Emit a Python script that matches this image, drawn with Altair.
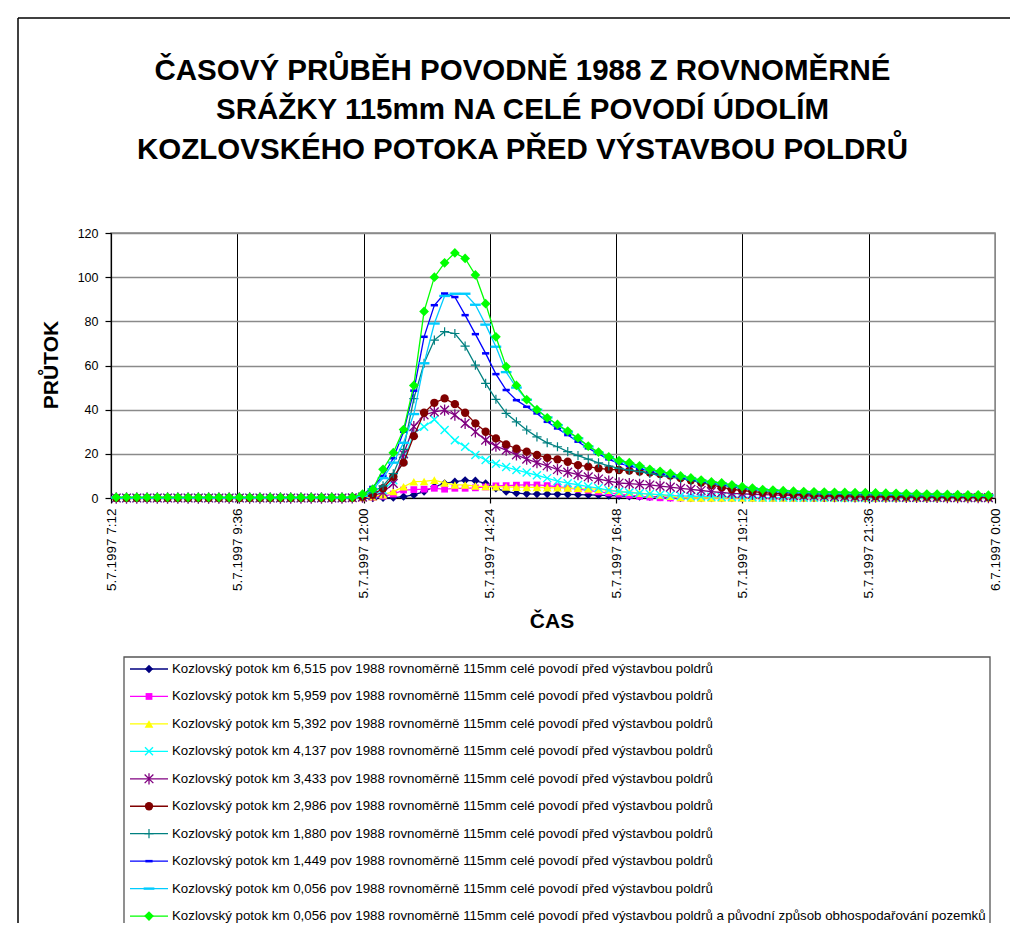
import altair as alt
import pandas as pd

# ---------------- data ----------------
# sampling grid (hours after midnight of 5.7.1997)
T_START_H = 7.3
T_STEP_H = 0.195
N_SAMPLES = 86
time_h = [round(T_START_H + T_STEP_H * k, 4) for k in range(N_SAMPLES)]

LBL = "Kozlovský potok km {} pov 1988 rovnoměrně 115mm celé povodí před výstavbou poldrů"
series_names = [
    LBL.format("6,515"), LBL.format("5,959"), LBL.format("5,392"), LBL.format("4,137"),
    LBL.format("3,433"), LBL.format("2,986"), LBL.format("1,880"), LBL.format("1,449"),
    LBL.format("0,056"),
    LBL.format("0,056") + " a původní způsob obhospodařování pozemků",
]
series_colors = ["#000080", "#FF00FF", "#FFFF00", "#00FFFF", "#800080",
                 "#800000", "#008080", "#0000FF", "#00CCFF", "#00FF00"]

km6515 = [0, 0, 0, 0, 0, 0, 0, 0, 0, 0, 0,
          0, 0, 0, 0, 0, 0, 0, 0, 0, 0, 0,
          0, 0, 0, 0, 0.1, 0.2, 0.6, 1.4,
          2.9, 5.1, 6.6, 7.4, 8.0, 7.8, 6.6, 4.4,
          2.9, 2.2, 1.9, 1.8, 1.8, 1.7, 1.6, 1.5,
          1.4, 1.3, 1.1, 1.0, 0.8, 0.7, 0.5, 0.4,
          0.2, 0.1, 0, 0, 0, 0, 0, 0,
          0, 0, 0, 0, 0, 0, 0, 0,
          0, 0, 0, 0, 0, 0, 0, 0,
          0, 0, 0, 0, 0, 0, 0, 0]
km5959 = [0, 0, 0, 0, 0, 0, 0, 0, 0, 0, 0,
          0, 0, 0, 0, 0, 0, 0, 0, 0, 0, 0,
          0, 0, 0.1, 0.3, 0.8, 1.8, 3.6, 3.8,
          4.0, 4.4, 4.0, 4.4, 4.4, 4.6, 5.0, 5.5,
          5.6, 5.8, 5.9, 5.9, 5.6, 5.1, 4.5, 4.0,
          3.5, 2.8, 2.3, 1.8, 1.3, 0.8, 0.4, 0.1,
          0, 0, 0, 0, 0, 0, 0, 0,
          0, 0, 0, 0, 0, 0, 0, 0,
          0, 0, 0, 0, 0, 0, 0, 0,
          0, 0, 0, 0, 0, 0, 0, 0]
km5392 = [0, 0, 0, 0, 0, 0, 0, 0, 0, 0, 0,
          0, 0, 0, 0, 0, 0, 0, 0, 0, 0, 0,
          0, 0, 0.2, 0.6, 1.5, 2.9, 5.1, 7.4,
          7.5, 8.1, 6.8, 5.9, 5.9, 5.4, 5.2, 5.1,
          5.0, 4.9, 4.8, 4.8, 4.7, 4.6, 4.5, 4.4,
          4.2, 3.9, 3.5, 3.0, 2.6, 2.2, 1.8, 1.4,
          0.8, 0.2, 0, 0, 0, 0, 0, 0,
          0, 0, 0, 0, 0, 0, 0, 0,
          0, 0, 0, 0, 0, 0, 0, 0,
          0, 0, 0, 0, 0, 0, 0, 0]
km4137 = [0, 0, 0, 0, 0, 0, 0, 0, 0, 0, 0,
          0, 0, 0, 0, 0, 0, 0, 0, 0, 0, 0,
          0, 0.1, 0.6, 1.5, 3.5, 8.0, 17.0, 29.3,
          32.3, 35.5, 30.8, 26.2, 23.2, 19.5, 17.2, 15.5,
          14.0, 12.7, 11.5, 10.3, 9.0, 7.6, 6.7, 6.0,
          5.2, 4.5, 3.5, 2.9, 2.5, 2.1, 1.8, 1.5,
          1.2, 1.0, 0.8, 0.7, 0.6, 0.5, 0.4, 0.3,
          0.3, 0.2, 0.2, 0.2, 0.1, 0.1, 0.1, 0.1,
          0.1, 0, 0, 0, 0, 0, 0, 0,
          0, 0, 0, 0, 0, 0, 0, 0]
km3433 = [0, 0, 0, 0, 0, 0, 0, 0, 0, 0, 0,
          0, 0, 0, 0, 0, 0, 0, 0, 0, 0, 0,
          0, 0.1, 0.4, 1.0, 2.5, 6.6, 20.0, 32.3,
          37.6, 39.0, 39.8, 37.6, 33.8, 30.0, 26.2, 23.5,
          21.7, 19.5, 17.6, 16.0, 14.6, 12.9, 11.7, 10.6,
          9.6, 8.6, 7.6, 6.8, 6.5, 6.2, 5.9, 5.4,
          4.9, 4.4, 3.9, 3.4, 2.9, 2.5, 2.1, 1.9,
          1.7, 1.5, 1.4, 1.2, 1.1, 1.0, 0.9, 0.8,
          0.6, 0.6, 0.5, 0.5, 0.4, 0.4, 0.4, 0.3,
          0.3, 0.3, 0.3, 0.2, 0.2, 0.2, 0.2, 0.2]
km2986 = [0, 0, 0, 0, 0, 0, 0, 0, 0, 0, 0,
          0, 0, 0, 0, 0, 0, 0, 0, 0, 0, 0,
          0, 0.1, 0.5, 1.5, 4.4, 9.6, 16.0, 28.0,
          38.6, 43.1, 45.1, 42.5, 38.6, 33.8, 30.0, 27.0,
          24.3, 22.3, 21.0, 19.5, 18.2, 17.5, 16.4, 14.9,
          14.2, 13.4, 13.0, 12.7, 12.4, 12.0, 11.5, 10.9,
          10.2, 9.0, 8.0, 7.0, 5.9, 4.9, 3.9, 3.4,
          2.9, 2.5, 2.1, 1.9, 1.7, 1.5, 1.4, 1.3,
          1.2, 1.1, 1.0, 0.9, 0.9, 0.8, 0.8, 0.7,
          0.7, 0.6, 0.6, 0.5, 0.5, 0.5, 0.4, 0.4]
km1880 = [0.1, 0.1, 0.1, 0.1, 0.1, 0.1, 0.1, 0.1, 0.1, 0.1, 0.1,
          0.1, 0.1, 0.1, 0.1, 0.1, 0.1, 0.1, 0.1, 0.1, 0.1, 0.1,
          0.1, 0.2, 1.0, 2.5, 5.5, 11.0, 22.0, 45.0,
          61.0, 71.5, 75.3, 74.5, 68.8, 60.2, 51.9, 44.7,
          38.3, 34.5, 30.8, 27.7, 25.0, 23.2, 21.0, 19.2,
          17.6, 15.9, 14.5, 13.4, 12.6, 11.9, 11.1, 10.3,
          9.5, 8.8, 8.0, 7.2, 6.5, 5.8, 5.0, 4.3,
          3.8, 3.3, 2.9, 2.6, 2.3, 2.1, 1.9, 1.8,
          1.7, 1.6, 1.5, 1.4, 1.4, 1.3, 1.2, 1.1,
          1.0, 1.0, 0.9, 0.9, 0.8, 0.8, 0.7, 0.7]
km1449 = [0.2, 0.2, 0.2, 0.2, 0.2, 0.2, 0.2, 0.2, 0.2, 0.2, 0.2,
          0.2, 0.2, 0.2, 0.2, 0.2, 0.2, 0.2, 0.2, 0.2, 0.2, 0.2,
          0.2, 0.3, 1.5, 5.0, 10.0, 18.0, 30.0, 48.6,
          73.0, 87.3, 92.6, 91.0, 82.8, 74.2, 65.5, 56.1,
          48.9, 44.3, 41.3, 38.3, 34.5, 31.5, 28.5, 25.5,
          22.5, 20.0, 17.5, 15.7, 14.5, 13.3, 12.2, 11.2,
          10.2, 9.3, 8.5, 7.6, 6.9, 6.2, 5.5, 4.8,
          4.2, 3.7, 3.3, 3.0, 2.8, 2.6, 2.5, 2.4,
          2.3, 2.2, 2.1, 2.0, 2.0, 1.9, 1.8, 1.7,
          1.6, 1.5, 1.4, 1.3, 1.2, 1.2, 1.1, 1.0]
km0056 = [0.2, 0.2, 0.2, 0.2, 0.2, 0.2, 0.2, 0.2, 0.2, 0.2, 0.2,
          0.2, 0.2, 0.2, 0.2, 0.2, 0.2, 0.2, 0.2, 0.2, 0.2, 0.2,
          0.2, 0.3, 1.0, 4.0, 9.0, 16.0, 25.0, 38.0,
          61.0, 79.0, 91.5, 92.5, 92.5, 87.5, 78.5, 68.5,
          57.0, 50.0, 44.5, 40.0, 36.5, 33.0, 30.0, 27.0,
          23.3, 20.5, 18.5, 16.8, 15.5, 14.2, 12.9, 11.9,
          10.9, 9.9, 9.0, 8.0, 7.2, 6.6, 5.8, 5.0,
          4.4, 3.8, 3.5, 3.2, 3.0, 2.8, 2.7, 2.6,
          2.5, 2.4, 2.3, 2.3, 2.2, 2.1, 2.0, 1.9,
          1.8, 1.7, 1.6, 1.5, 1.4, 1.3, 1.3, 1.2]
km0056_orig = [0.3, 0.3, 0.3, 0.3, 0.3, 0.3, 0.3, 0.3, 0.3, 0.3, 0.3,
               0.3, 0.3, 0.3, 0.3, 0.3, 0.3, 0.3, 0.3, 0.3, 0.3, 0.3,
               0.3, 0.4, 1.8, 4.0, 13.0, 20.5, 31.0, 51.0,
               84.5, 100.0, 106.5, 111.0, 108.5, 101.0, 88.0, 73.0,
               59.5, 51.0, 44.5, 40.0, 36.3, 33.3, 30.3, 27.2,
               23.5, 20.8, 18.6, 16.9, 16.0, 14.6, 13.0, 12.1,
               11.1, 10.0, 9.1, 8.1, 7.3, 6.8, 5.9, 5.1,
               4.5, 3.8, 3.6, 3.3, 3.1, 2.9, 2.8, 2.7,
               2.6, 2.5, 2.4, 2.4, 2.3, 2.2, 2.1, 2.0,
               1.9, 1.8, 1.7, 1.6, 1.5, 1.4, 1.4, 1.3]

series_values = [km6515, km5959, km5392, km4137, km3433,
                 km2986, km1880, km1449, km0056, km0056_orig]

title_lines = ["ČASOVÝ PRŮBĚH POVODNĚ 1988 Z ROVNOMĚRNÉ",
               "SRÁŽKY 115mm NA CELÉ POVODÍ ÚDOLÍM",
               "KOZLOVSKÉHO POTOKA PŘED VÝSTAVBOU POLDRŮ"]
y_title = "PRŮTOK"
x_title = "ČAS"
x_tick_values = [7.2, 9.6, 12.0, 14.4, 16.8, 19.2, 21.6, 24.0]
y_tick_values = [0, 20, 40, 60, 80, 100, 120]

# ---------------- styling ----------------
W, H = 884, 265
FONT = "Liberation Sans"

# marker styles (Excel defaults): shape, filled, size, strokeWidth
X_PATH = "M-1,-1L1,1M-1,1L1,-1"
STAR_PATH = "M-1,-1L1,1M-1,1L1,-1M0,-1.3L0,1.3"
PLUS_PATH = "M-1,0L1,0M0,-1L0,1"
DASH_S = "M-1,-0.35L1,-0.35L1,0.35L-1,0.35Z"
DASH_L = "M-1,-0.22L1,-0.22L1,0.22L-1,0.22Z"
marker_styles = [
    ("diamond", True, 70, 1),
    ("square", True, 46, 1),
    ("triangle-up", True, 76, 1),
    (X_PATH, False, 64, 1.4),
    (STAR_PATH, False, 76, 1.3),
    ("circle", True, 70, 1),
    (PLUS_PATH, False, 84, 1.2),
    (DASH_S, True, 52, 0.5),
    (DASH_L, True, 115, 0.5),
    ("diamond", True, 95, 1),
]

x_scale = alt.Scale(domain=[7.2, 24.0], nice=False, zero=False)
y_scale = alt.Scale(domain=[0, 120], nice=False)

label_expr = ("datum.value >= 23.99 ? '6.7.1997 0:00' : '5.7.1997 ' + floor(datum.value) + ':' + "
              "(round((datum.value - floor(datum.value)) * 60) < 10 ? '0' : '') + "
              "round((datum.value - floor(datum.value)) * 60)")

x_axis = alt.Axis(values=x_tick_values, labelExpr=label_expr, labelAngle=270,
                  labelAlign="right", labelBaseline="middle", labelPadding=5,
                  tickSize=5, title=None, labelFont=FONT, labelFontSize=13.5,
                  gridColor={"condition": {"test": "datum.value > 23.9", "value": "#888888"},
                             "value": "#000000"},
                  gridWidth=1)
y_axis = alt.Axis(values=y_tick_values, tickSize=6, labelPadding=7, title=None,
                  labelFont=FONT, labelFontSize=12.5, gridColor="#8a8a8a", gridWidth=1.5)

layers = []

# outer chart frame (top and left edges; right/bottom lie outside the picture)
one = pd.DataFrame({"k": [0]})
layers.append(alt.Chart(one).mark_rule(color="#000000", strokeWidth=1.5).encode(
    x=alt.value(-93), x2=alt.value(960), y=alt.value(-215)))
layers.append(alt.Chart(one).mark_rule(color="#000000", strokeWidth=1.5).encode(
    x=alt.value(-93), y=alt.value(-215), y2=alt.value(760)))

# main series
for i, (name, col, vals) in enumerate(zip(series_names, series_colors, series_values)):
    df = pd.DataFrame({"t": time_h, "q": vals})
    enc = dict(x=alt.X("t:Q", scale=x_scale, axis=x_axis),
               y=alt.Y("q:Q", scale=y_scale, axis=y_axis))
    layers.append(alt.Chart(df).mark_line(color=col, strokeWidth=1.3).encode(**enc))
    shape, filled, size, sw = marker_styles[i]
    layers.append(alt.Chart(df).mark_point(shape=shape, filled=filled, color=col, size=size,
                                           strokeWidth=sw, opacity=1).encode(**enc))

# titles
TITLE_Y = [-153, -114, -74]
for ln, ty in zip(title_lines, TITLE_Y):
    layers.append(alt.Chart(pd.DataFrame({"s": [ln]})).mark_text(
        font=FONT, fontSize=29.5, fontWeight="bold", align="center", baseline="alphabetic",
        color="#000000").encode(x=alt.value(411.5), y=alt.value(ty), text="s:N"))
layers.append(alt.Chart(pd.DataFrame({"s": [y_title]})).mark_text(
    font=FONT, fontSize=21, fontWeight="bold", align="center", baseline="middle", angle=270,
    color="#000000").encode(x=alt.value(-59), y=alt.value(132), text="s:N"))
layers.append(alt.Chart(pd.DataFrame({"s": [x_title]})).mark_text(
    font=FONT, fontSize=21, fontWeight="bold", align="center", baseline="middle",
    color="#000000").encode(x=alt.value(441), y=alt.value(389), text="s:N"))

# legend box
LEG_X0, LEG_X1, LEG_TOP = 13, 879, 424
LEG_ROW0, LEG_STEP = 436, 27.45
layers.append(alt.Chart(one).mark_rect(fill="#ffffff", stroke="#555555", strokeWidth=1.3).encode(
    x=alt.value(LEG_X0), x2=alt.value(LEG_X1), y=alt.value(LEG_TOP), y2=alt.value(760)))
for i, (name, col) in enumerate(zip(series_names, series_colors)):
    ly = LEG_ROW0 + i * LEG_STEP
    ldf = pd.DataFrame({"s": [name]})
    layers.append(alt.Chart(ldf).mark_rule(color=col, strokeWidth=1.3).encode(
        x=alt.value(19), x2=alt.value(57), y=alt.value(ly)))
    shape, filled, size, sw = marker_styles[i]
    layers.append(alt.Chart(ldf).mark_point(shape=shape, filled=filled, color=col, size=size,
                                            strokeWidth=sw, opacity=1).encode(
        x=alt.value(38), y=alt.value(ly)))
    layers.append(alt.Chart(ldf).mark_text(font=FONT, fontSize=13.3, align="left",
                                           baseline="middle", color="#000000").encode(
        x=alt.value(61), y=alt.value(ly), text="s:N"))

chart = alt.layer(*layers).properties(
    width=W, height=H,
    autosize=alt.AutoSizeParams(type="none"),
    padding={"left": 103, "top": 225, "right": 15, "bottom": 425},
    background="#ffffff",
).configure_view(stroke="#888888", strokeWidth=1.5).configure_axis(
    labelColor="#000000", tickColor="#000000", domainColor="#000000", domainWidth=1.2,
    tickWidth=1.2)

chart.save("out.html", embed_options={"renderer": "svg", "actions": False})
